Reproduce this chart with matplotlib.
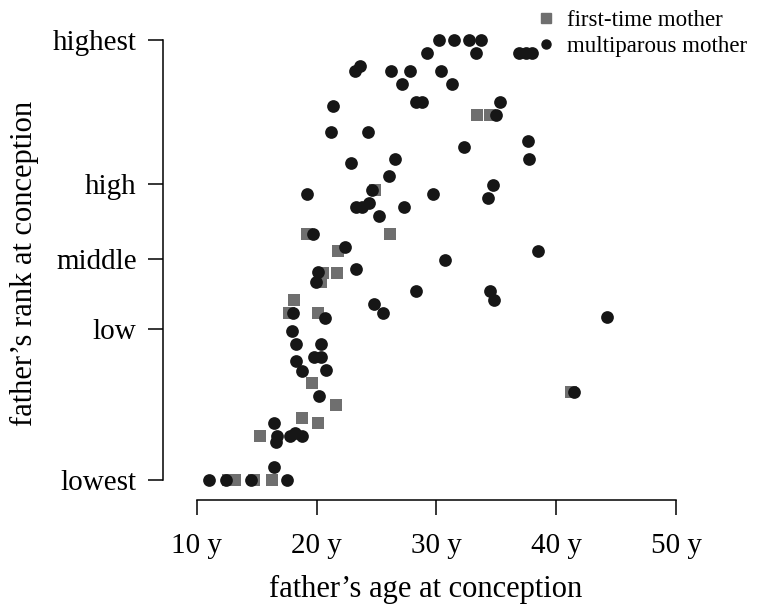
import numpy as np
import matplotlib
matplotlib.use("Agg")
import matplotlib.pyplot as plt
from matplotlib.lines import Line2D

# father's age (years) and rank (0 = lowest, 1 = highest)
multi_age = [11.0, 12.4, 14.5, 17.5, 16.4, 16.4, 16.7, 16.6, 17.75, 18.2, 18.8,
             20.2, 18.8, 20.8, 18.3, 19.8, 20.4, 18.25, 20.4, 17.9, 18.0, 20.7,
             19.9, 20.1, 23.3, 22.4, 19.7, 24.75, 25.5, 19.2, 23.3, 23.8, 24.4,
             25.2, 24.6, 27.3, 26.0, 26.5, 22.9, 21.2, 24.25, 21.4, 23.2, 23.6,
             26.2, 27.75, 27.1, 30.4, 31.3, 29.25, 30.25, 31.5, 32.75, 33.75,
             33.3, 36.9, 37.5, 38.0, 28.3, 28.8, 35.3, 35.0, 32.3, 37.6, 37.7,
             29.7, 34.75, 34.3, 38.5, 30.7, 28.3, 34.5, 34.8, 44.2, 41.5]
multi_rank = [0.0, 0.0, 0.0, 0.0, 0.03, 0.13, 0.10, 0.086, 0.10, 0.107, 0.10,
              0.19, 0.248, 0.25, 0.27, 0.28, 0.28, 0.31, 0.31, 0.339, 0.38, 0.368,
              0.45, 0.473, 0.48, 0.53, 0.56, 0.40, 0.38, 0.65, 0.62, 0.62, 0.63,
              0.60, 0.66, 0.62, 0.69, 0.73, 0.72, 0.79, 0.79, 0.85, 0.93, 0.94,
              0.93, 0.93, 0.90, 0.93, 0.90, 0.97, 1.0, 1.0, 1.0, 1.0,
              0.97, 0.97, 0.97, 0.97, 0.86, 0.86, 0.86, 0.83, 0.757, 0.77, 0.73,
              0.65, 0.67, 0.64, 0.52, 0.50, 0.43, 0.43, 0.41, 0.37, 0.20]

first_age = [12.6, 13.2, 14.8, 16.25, 15.3, 18.8, 20.1, 21.6, 19.6, 17.7, 18.1,
             20.1, 20.4, 20.5, 21.7, 21.8, 19.2, 26.1, 24.9, 33.4, 34.5, 41.25]
first_rank = [0.0, 0.0, 0.0, 0.0, 0.10, 0.14, 0.13, 0.17, 0.22, 0.38, 0.41,
              0.38, 0.45, 0.47, 0.47, 0.52, 0.56, 0.56, 0.66, 0.83, 0.83, 0.20]

rank_ticks = [0.0, 0.343, 0.502, 0.673, 1.0]
rank_labels = ["lowest", "low", "middle", "high", "highest"]
age_ticks = [10, 20, 30, 40, 50]
age_labels = ["10 y", "20 y", "30 y", "40 y", "50 y"]

plt.rcParams["font.family"] = ["Liberation Serif", "DejaVu Serif"]

fig = plt.figure(figsize=(7.57, 6.09), dpi=100)
W, H = 757, 609
ax = fig.add_axes([163 / W, (H - 500) / H, (688 - 163) / W, (500 - 27) / H])

sq_col = "#6f6f6f"
dot_col = "#161616"
ax.scatter(first_age, first_rank, marker="s", s=72, color=sq_col, linewidths=0, zorder=2)
ax.scatter(multi_age, multi_rank, marker="o", s=84, color=dot_col, linewidths=0, zorder=3)

ax.set_xlim(10 - 34 / 12, 51)
ax.set_ylim(-20 / 440, 1 + 13 / 440)

for s in ["top", "right"]:
    ax.spines[s].set_visible(False)
ax.spines["left"].set_bounds(0, 1)
ax.spines["bottom"].set_bounds(10, 50)
for s in ["left", "bottom"]:
    ax.spines[s].set_linewidth(1.1)

ax.set_xticks(age_ticks)
ax.set_xticklabels(age_labels)
ax.set_yticks(rank_ticks)
ax.set_yticklabels(rank_labels)
ax.tick_params(length=11, width=1.1, labelsize=21, pad=8)
ax.tick_params(axis="x", pad=13)

ax.set_xlabel("father\u2019s age at conception", fontsize=22, labelpad=11)
ax.set_ylabel("father\u2019s rank at conception", fontsize=22, labelpad=10)

handles = [Line2D([], [], marker="s", ls="", color=sq_col, markersize=6.5),
           Line2D([], [], marker="o", ls="", color=dot_col, markersize=6.5)]
fig.legend(handles, ["first-time mother", "multiparous mother"],
           loc="upper right", bbox_to_anchor=(1.0, 1.0), frameon=False,
           fontsize=16.5, handlelength=1.2, handletextpad=0.3, labelspacing=0.2,
           borderaxespad=0.05)

fig.savefig("out.png", dpi=100)
